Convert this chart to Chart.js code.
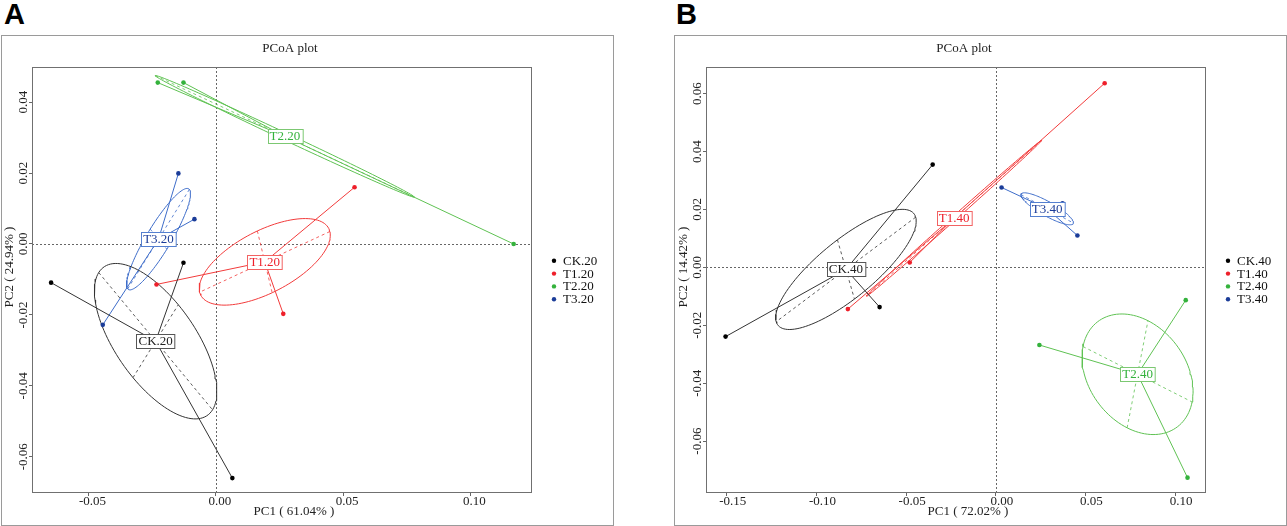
<!DOCTYPE html>
<html lang="en">
<head>
<meta charset="UTF-8">
<title>PCoA plots</title>
<script src="https://cdn.jsdelivr.net/npm/chart.js"></script>
<style>
  html, body { margin: 0; padding: 0; background: #fff; }
  body { width: 1287px; height: 526px; position: relative; overflow: hidden; }
  .tag { position: absolute; top: 0; font: bold 29px "Liberation Sans", Arial, sans-serif; line-height: 29px; color: #000; }
  .panel { position: absolute; top: 35px; width: 613px; height: 491px; box-sizing: border-box; border: 1px solid #9a9a9a; }
  .panel canvas { position: absolute; left: 0; top: 0; }
</style>
</head>
<body>
<div class="tag" style="left:4px">A</div>
<div class="tag" style="left:676px">B</div>
<div class="panel" style="left:1px"><canvas id="pcoaA" width="611" height="489"></canvas></div>
<div class="panel" style="left:674px"><canvas id="pcoaB" width="611" height="489"></canvas></div>

<script>
// panel A (20 cm) - sample scores [PC1, PC2]
const groupsA = ['CK.20', 'T1.20', 'T2.20', 'T3.20'];
const ck20 = [[-0.0647, -0.0109], [-0.0127, -0.0053], [0.0065, -0.0660]];
const t120 = [[0.0545, 0.0160], [-0.0233, -0.0114], [0.0265, -0.0197]];
const t220 = [[-0.0228, 0.0455], [-0.0127, 0.0455], [0.1170, 0.0000]];
const t320 = [[-0.0147, 0.0199], [-0.0084, 0.0070], [-0.0444, -0.0228]];
const xTicksA = [-0.05, 0, 0.05, 0.10];
const yTicksA = [-0.06, -0.04, -0.02, 0, 0.02, 0.04];
const axisTitlesA = ['PC1 ( 61.04% )', 'PC2 ( 24.94% )'];

// panel B (40 cm)
const groupsB = ['CK.40', 'T1.40', 'T2.40', 'T3.40'];
const ck40 = [[-0.0352, 0.0355], [-0.0648, -0.0137], [-0.1507, -0.0239]];
const t140 = [[0.0607, 0.0636], [-0.0480, 0.0017], [-0.0825, -0.0144]];
const t240 = [[0.1059, -0.0113], [0.0243, -0.0268], [0.1069, -0.0726]];
const t340 = [[0.0032, 0.0276], [0.0455, 0.0110], [0.0372, 0.0221]];
const xTicksB = [-0.15, -0.10, -0.05, 0, 0.05, 0.10];
const yTicksB = [-0.06, -0.04, -0.02, 0, 0.02, 0.04, 0.06];
const axisTitlesB = ['PC1 ( 72.02% )', 'PC2 ( 14.42% )'];

const FONT = '"Liberation Serif", "Times New Roman", serif';
const pointCols = ['#000000', '#ee1f2a', '#34b23c', '#1b3c98'];
const lineCols = ['#333333', '#f23b3b', '#5fc253', '#3d6cc9'];
const boxCols = ['#555555', '#f26262', '#7cc872', '#5580d0'];
const ELL = 0.8; // ellipse size factor

Chart.defaults.font.family = FONT;
Chart.defaults.font.size = 13;
Chart.defaults.color = '#222';

function centroid(pts) {
    const n = pts.length;
    return [pts.reduce((s, p) => s + p[0], 0) / n, pts.reduce((s, p) => s + p[1], 0) / n];
}

// covariance ellipse like ade4 s.class
function ellipseOf(pts) {
    const [mx, my] = centroid(pts);
    const n = pts.length;
    let vx = 0, vy = 0, cxy = 0;
    pts.forEach(p => {
        vx += (p[0] - mx) ** 2 / n;
        vy += (p[1] - my) ** 2 / n;
        cxy += (p[0] - mx) * (p[1] - my) / n;
    });
    const tr = vx + vy, det = vx * vy - cxy * cxy;
    const d = Math.sqrt(Math.max(tr * tr / 4 - det, 0));
    const l1 = tr / 2 + d, l2 = Math.max(tr / 2 - d, 0);
    let ex = cxy, ey = l1 - vx;
    if (Math.abs(cxy) < 1e-12) { ex = vx >= vy ? 1 : 0; ey = vx >= vy ? 0 : 1; }
    const len = Math.hypot(ex, ey);
    ex /= len; ey /= len;
    const a = ELL * Math.sqrt(l1), b = ELL * Math.sqrt(l2);
    const u = [a * ex, a * ey], v = [-b * ey, b * ex];
    const outline = [];
    for (let i = 0; i <= 120; i++) {
        const t = i / 120 * 2 * Math.PI;
        outline.push({ x: mx + u[0] * Math.cos(t) + v[0] * Math.sin(t), y: my + u[1] * Math.cos(t) + v[1] * Math.sin(t) });
    }
    return {
        outline,
        major: [{ x: mx + u[0], y: my + u[1] }, { x: mx - u[0], y: my - u[1] }],
        minor: [{ x: mx + v[0], y: my + v[1] }, { x: mx - v[0], y: my - v[1] }]
    };
}

function groupSets(pts, i) {
    const c = centroid(pts);
    const e = ellipseOf(pts);
    // each sample joined once to its centroid, gaps between segments
    const star = [];
    pts.forEach(p => {
        star.push({ x: p[0], y: p[1] }, { x: c[0], y: c[1] }, { x: NaN, y: NaN });
    });
    const line = { showLine: true, spanGaps: false, pointRadius: 0, pointHoverRadius: 0, borderColor: lineCols[i], borderWidth: 1, order: 1 };
    const dash = Object.assign({}, line, { borderDash: [3, 3], borderWidth: 0.8 });
    return [
        Object.assign({ data: e.outline }, line),
        Object.assign({ data: e.major }, dash),
        Object.assign({ data: e.minor }, dash),
        Object.assign({ data: star }, line),
        {
            data: pts.map(p => ({ x: p[0], y: p[1] })),
            showLine: false, pointRadius: 2.3, pointHoverRadius: 2.3,
            pointBackgroundColor: pointCols[i], pointBorderWidth: 0, order: 0
        }
    ];
}

function pcoaPlugin(groups, sets, titles) {
    return {
        id: 'pcoa',
        beforeDatasetsDraw(chart) {
            const { ctx, chartArea: a, scales: { x, y } } = chart;
            const x0 = Math.round(x.getPixelForValue(0)) + 0.5;
            const y0 = Math.round(y.getPixelForValue(0)) + 0.5;
            ctx.save();
            ctx.strokeStyle = '#666';
            ctx.lineWidth = 1;
            ctx.setLineDash([2, 2]);
            ctx.beginPath();
            ctx.moveTo(x0, a.top); ctx.lineTo(x0, a.bottom);
            ctx.moveTo(a.left, y0); ctx.lineTo(a.right, y0);
            ctx.stroke();
            ctx.restore();
        },
        afterDatasetsDraw(chart) {
            const { ctx, scales: { x, y } } = chart;
            ctx.save();
            ctx.font = '13px ' + FONT;
            ctx.textAlign = 'center';
            ctx.textBaseline = 'middle';
            groups.forEach((g, i) => {
                const c = centroid(sets[i]);
                const px = x.getPixelForValue(c[0]), py = y.getPixelForValue(c[1]);
                const w = ctx.measureText(g).width + 4, h = 14;
                const bx = Math.round(px - w / 2) + 0.5, by = Math.round(py - h / 2) + 0.5;
                ctx.fillStyle = '#fff';
                ctx.fillRect(bx, by, w, h);
                ctx.strokeStyle = boxCols[i];
                ctx.lineWidth = 1;
                ctx.strokeRect(bx, by, w, h);
                ctx.fillStyle = pointCols[i] === '#000000' ? '#222' : pointCols[i];
                ctx.fillText(g, px, py + 0.5);
            });
            ctx.restore();
        },
        afterDraw(chart) {
            const { ctx, chartArea: a } = chart;
            const cx = (a.left + a.right) / 2, cy = (a.top + a.bottom) / 2;
            ctx.save();
            ctx.strokeStyle = '#707070';
            ctx.lineWidth = 1;
            ctx.strokeRect(a.left + 0.5, a.top + 0.5, a.width - 1, a.height - 1);

            ctx.font = '13px ' + FONT;
            ctx.fillStyle = '#222';
            ctx.textAlign = 'center';
            ctx.textBaseline = 'middle';
            ctx.fillText('PCoA plot', cx + 8, 13);
            ctx.fillText(titles[0], cx + 12, 476);
            ctx.save();
            ctx.translate(a.left - 22.5, cy - 13);
            ctx.rotate(-Math.PI / 2);
            ctx.fillText(titles[1], 0, 0);
            ctx.restore();

            // legend
            ctx.textAlign = 'left';
            groups.forEach((g, i) => {
                const ly = cy + (i - 1.5) * 12.8;
                ctx.fillStyle = pointCols[i];
                ctx.beginPath();
                ctx.arc(a.right + 22, ly, 2.2, 0, 2 * Math.PI);
                ctx.fill();
                ctx.fillStyle = '#111';
                ctx.fillText(g, a.right + 31, ly + 0.5);
            });
            ctx.restore();
        }
    };
}

function makeChart(id, groups, sets, xTicks, yTicks, titles, range, pad, xOffset) {
    const datasets = [];
    sets.forEach((pts, i) => datasets.push(...groupSets(pts, i)));
    return new Chart(document.getElementById(id), {
        type: 'scatter',
        data: { datasets },
        options: {
            responsive: false,
            animation: false,
            events: [],
            layout: { padding: { top: pad.top, right: pad.right, left: 0, bottom: 0 } },
            plugins: { legend: { display: false }, tooltip: { enabled: false } },
            scales: {
                x: {
                    type: 'linear', min: range.x[0], max: range.x[1],
                    afterBuildTicks: s => { s.ticks = xTicks.map(v => ({ value: v })); },
                    afterFit: s => { s.height = pad.bottom; },
                    grid: { drawOnChartArea: false, drawTicks: true, tickLength: 3, tickColor: '#666' },
                    border: { display: false },
                    ticks: { autoSkip: false, maxRotation: 0, minRotation: 0, padding: -2, labelOffset: xOffset, callback: v => v.toFixed(2) }
                },
                y: {
                    type: 'linear', min: range.y[0], max: range.y[1],
                    afterBuildTicks: s => { s.ticks = yTicks.map(v => ({ value: v })); },
                    afterFit: s => { s.width = pad.left; },
                    grid: { drawOnChartArea: false, drawTicks: true, tickLength: 3, tickColor: '#666' },
                    border: { display: false },
                    ticks: { autoSkip: false, minRotation: 90, maxRotation: 90, crossAlign: 'center', padding: -8.5, callback: v => v.toFixed(2) }
                }
            }
        },
        plugins: [pcoaPlugin(groups, sets, titles)]
    });
}

makeChart('pcoaA', groupsA, [ck20, t120, t220, t320], xTicksA, yTicksA, axisTitlesA,
    { x: [-0.0722, 0.1242], y: [-0.0702, 0.0499] },
    { left: 30, top: 31, right: 81, bottom: 32 }, 4);

makeChart('pcoaB', groupsB, [ck40, t140, t240, t340], xTicksB, yTicksB, axisTitlesB,
    { x: [-0.1616, 0.1172], y: [-0.0779, 0.0692] },
    { left: 31, top: 31, right: 80, bottom: 32 }, 6);
</script>
</body>
</html>
